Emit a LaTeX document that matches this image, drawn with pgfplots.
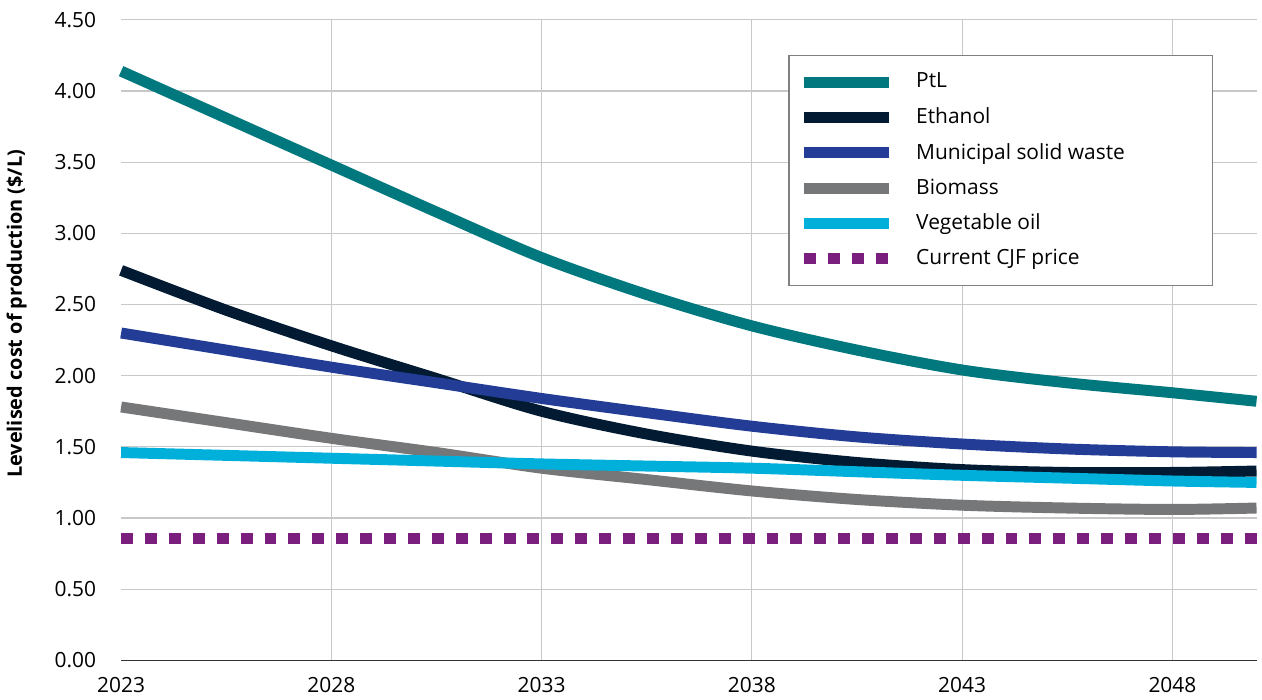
\documentclass[border=0pt]{standalone}
\usepackage{pgfplots}
\pgfplotsset{compat=1.18}
\usepackage{fontspec}
\setmainfont{Open Sans}
\definecolor{ptl}{HTML}{00787E}
\definecolor{eth}{HTML}{021B33}
\definecolor{msw}{HTML}{233C96}
\definecolor{bio}{HTML}{767779}
\definecolor{veg}{HTML}{00B0DA}
\definecolor{cjf}{HTML}{7A1F7E}
\definecolor{gridc}{HTML}{C8C8C8}
\pgfplotstableread{
x ptl eth msw bio veg
2023 4.14 2.74 2.30 1.78 1.46
2025.5 3.81 2.46 2.18 1.67 1.44
2028 3.48 2.21 2.06 1.56 1.42
2030.5 3.15 1.98 1.95 1.46 1.40
2033 2.83 1.75 1.84 1.35 1.38
2035.5 2.57 1.59 1.74 1.27 1.365
2038 2.35 1.47 1.645 1.19 1.35
2040.5 2.18 1.39 1.57 1.13 1.325
2043 2.04 1.34 1.52 1.09 1.30
2045.5 1.95 1.32 1.485 1.07 1.28
2048 1.88 1.32 1.465 1.06 1.26
2050 1.82 1.33 1.46 1.07 1.25
}\data
\pgfplotstableread{
x y
2023 0.855
2050 0.855
}\cjfdata
\begin{document}
\begin{tikzpicture}
\begin{axis}[
  scale only axis,
  width=570pt, height=321.5pt,
  xmin=2023, xmax=2050, ymin=0, ymax=4.5,
  xtick={2028,2033,2038,2043,2048},
  extra x ticks={2023},
  extra x tick style={grid=none},
  ytick={0,0.5,1,1.5,2,2.5,3,3.5,4,4.5},
  axis x line*=bottom, axis y line*=left,
  y axis line style={draw=none},
  x axis line style={draw=black!80, line width=0.7pt},
  major tick length=0pt,
  grid=major,
  major grid style={draw=gridc, line width=0.6pt},
  tick label style={font=\fontsize{10.5}{12}\selectfont, text=black},
  /pgf/number format/assume math mode=true,
  x tick label style={/pgf/number format/1000 sep={}, yshift=-5pt},
  y tick label style={/pgf/number format/.cd, fixed, fixed zerofill, precision=2, /tikz/.cd, xshift=-9pt},
  ylabel={\bfseries Levelised cost of production (\$/L)},
  ylabel style={font=\fontsize{10}{12}\selectfont, at={(rel axis cs:-0.092,0.541)}, anchor=center},
  clip=false,
  legend cell align=left,
  legend style={at={(rel axis cs:0.962,0.9456)}, anchor=north east,
    draw=black!50, line width=0.8pt, font=\fontsize{10.5}{12}\selectfont,
    inner xsep=5pt, inner ysep=6.8pt, row sep=4.4pt,
    /tikz/every even column/.append style={column sep=0pt}},
  legend image code/.code={\draw[#1] (0pt,0pt) -- (42.5pt,0pt);},
  every axis plot/.append style={line width=5.5pt, line cap=butt},
]
\path (rel axis cs:0,1) ++(0pt,10pt);
\addplot[ptl, smooth] table[x=x, y=ptl] {\data};
\addlegendentry{\hspace{9pt}PtL}
\addplot[eth, smooth] table[x=x, y=eth] {\data};
\addlegendentry{\hspace{9pt}Ethanol}
\addplot[msw, smooth] table[x=x, y=msw] {\data};
\addlegendentry{\hspace{9pt}Municipal solid waste\rule{37pt}{0pt}}
\addplot[bio, smooth] table[x=x, y=bio] {\data};
\addlegendentry{\hspace{9pt}Biomass}
\addplot[veg, smooth] table[x=x, y=veg] {\data};
\addlegendentry{\hspace{9pt}Vegetable oil}
\addplot[cjf, dash pattern=on 6pt off 6pt] table[x=x, y=y] {\cjfdata};
\addlegendentry{\hspace{9pt}Current CJF price}
\end{axis}
\end{tikzpicture}
\end{document}
